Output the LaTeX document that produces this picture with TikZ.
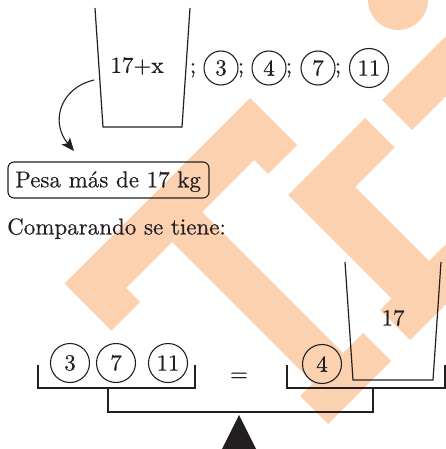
\documentclass[tikz,border=0pt]{standalone}
\usepackage{fontspec}
\newfontfamily\inkfont{lmroman10-regular}[Extension=.otf, FakeBold=0.45]
\usetikzlibrary{arrows.meta}
\definecolor{ink}{HTML}{231F20}
\definecolor{peach}{HTML}{FCD1B0}
\begin{document}
\begin{tikzpicture}[x=1pt,y=-1pt,line join=miter,
  txt/.style={font=\inkfont\fontsize{23}{27}\selectfont, text=ink, inner sep=0pt},
  num/.style={txt, draw=ink, line width=1.1pt, circle, minimum size=34pt},
  bignum/.style={num, minimum size=39pt},
  wall/.style={draw=ink, line width=1.2pt},
  wm/.style={fill=peach, draw=none},
  pesabox/.style={draw=ink, line width=1.1pt, rounded corners=6pt, minimum width=201pt, minimum height=36pt, inner sep=0pt}
]
\useasboundingbox (0,0) rectangle (446,449);
% watermark
\begin{scope}
\clip (0,0) rectangle (446,449);
\fill[wm] (250,98) -- (297,145) -- (268,174) -- (254,160) -- (202,212) -- (343,353) -- (363,333) -- (391,361) -- (328,424) -- (300,396) -- (313,383) -- (172,242) -- (126,288) -- (140,302) -- (111.5,330.5) -- (64.5,283.5) -- cycle;
\fill[wm] (365,118) -- (394.5,147.5) -- (355,187) -- (429,261) -- (495,195) -- (525,225) -- (410,340) -- (380,310) -- (391.5,298.5) -- (288,195) -- cycle;
\fill[wm] (382,100) -- (412,130) -- (521,21) -- (491,-9) -- cycle;
\fill[wm] (398,0) circle[radius=30pt];
\end{scope}
% top bucket
\draw[wall] (95,8) -- (103,127) -- (182,127) -- (190,8);
\node[txt] (topx) at (137,66) {17+x};
\node[txt, anchor=base] (s1) at (193,73) {;};
\node[num] (c3) at (221,68) {3};
\node[txt, anchor=base] (s2) at (241,73) {;};
\node[num] (c4) at (269,68) {4};
\node[txt, anchor=base] (s3) at (289,73) {;};
\node[num] (c7) at (318,68) {7};
\node[txt, anchor=base] (s4) at (338,73) {;};
\node[bignum] (c11) at (369,68) {11};
% arrow to box
\coordinate (arrS) at (94,80);
\coordinate (arrE) at (74,151);
\draw[ink, line width=1.1pt, -{Stealth[length=13pt,width=11pt,inset=3pt]}] (arrS) .. controls (60,88) and (50,122) .. (arrE);
\node[pesabox] (pesa) at (108.5,180) {};
\node[txt, anchor=base west] (pesatxt) at (15,187.3) {Pesa más de 17 kg};
\node[txt, anchor=base west] (comp) at (7,234.5) {Comparando se tiene:};
% balance
\draw[wall] (38,365) -- (38,388) -- (195,388) -- (195,365);
\draw[wall] (287,365) -- (287,388) -- (445,388) -- (445,365);
\draw[wall] (108,388) -- (108,412) -- (373,412) -- (373,388);
\node[bignum] (b3) at (70,363) {3};
\node[bignum] (b7) at (116,363) {7};
\node[bignum] (b11) at (168,363) {11};
\node[txt] (eq) at (239,377) {=};
\node[bignum] (b4) at (322,364) {4};
\draw[wall] (345,262) -- (353,380) -- (433,380) -- (441,262);
\node[txt] (r17) at (393,318) {17};
\fill[ink] (239,415) -- (257,451) -- (221,451) -- cycle;
\end{tikzpicture}
\end{document}
